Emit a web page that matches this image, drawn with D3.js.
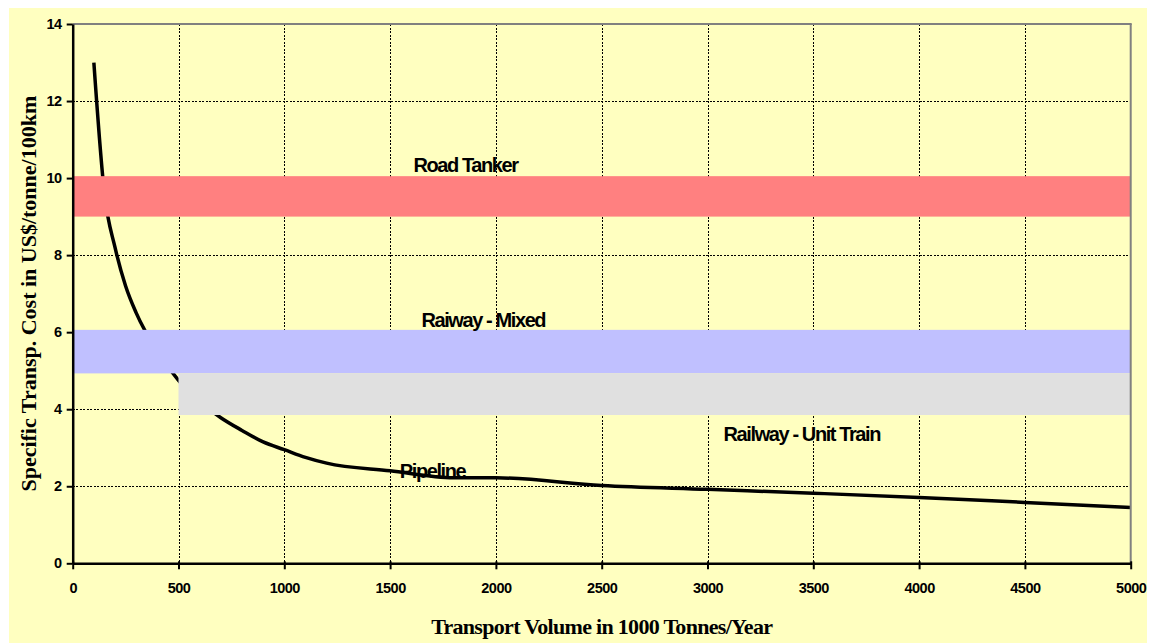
<!DOCTYPE html>
<html>
<head>
<meta charset="utf-8">
<script src="https://cdn.jsdelivr.net/npm/d3@7"></script>
<style>
  html, body { margin: 0; padding: 0; background: #ffffff; }
  svg { display: block; }
  .tick-label { font-family: "Liberation Sans", Arial, sans-serif; font-weight: bold; font-size: 14.5px; letter-spacing: -0.5px; fill: #000; }
  .band-label { font-family: "Liberation Sans", Arial, sans-serif; font-weight: bold; font-size: 20px; letter-spacing: -1.4px; fill: #000; }
  .axis-title { font-family: "Liberation Serif", "Times New Roman", serif; font-weight: bold; fill: #000; }
</style>
</head>
<body>
<svg id="chart" width="1151" height="643"></svg>
<script>
// Transport volume (1000 t/yr) and specific pipeline cost (US$/tonne/100km)
const pipelineVolume = [100, 150, 200, 250, 300, 400, 500, 600, 700, 800, 900, 1000, 1100, 1200, 1500, 1800, 2000, 2500, 3000, 3500, 4000, 4500, 5000];
const pipelineCost   = [13, 9.6, 8.2, 7.2, 6.5, 5.5, 4.75, 4.2, 3.78, 3.45, 3.15, 2.95, 2.75, 2.6, 2.4, 2.22, 2.22, 2.02, 1.92, 1.82, 1.71, 1.58, 1.45];

// Cost ranges of the competing modes
const bandNames  = ["Road Tanker", "Raiway - Mixed", "Railway - Unit Train"];
const bandLow    = [9, 4.93, 3.85];
const bandHigh   = [10.05, 6.06, 4.93];
const bandFrom   = [0, 0, 500];
const bandTo     = [5000, 5000, 5000];
const bandColors = ["#ff8080", "#c0c0ff", "#e0e0e0"];

// Label anchors in data units
const labelText = ["Road Tanker", "Raiway - Mixed", "Railway - Unit Train", "Pipeline"];
const labelX    = [1610, 1648, 3076, 1546];
const labelY    = [10.34, 6.32, 3.36, 2.40];

const xTicks = [0, 500, 1000, 1500, 2000, 2500, 3000, 3500, 4000, 4500, 5000];
const yTicks = [0, 2, 4, 6, 8, 10, 12, 14];

const svg = d3.select("#chart");
const plotLeft = 72.7, plotRight = 1130.7, plotTop = 24, plotBottom = 563.3;

const x = d3.scaleLinear().domain([0, 5000]).range([plotLeft, plotRight]);
const y = d3.scaleLinear().domain([0, 14]).range([plotBottom, plotTop]);

// chart area background
svg.append("rect").attr("x", 9).attr("y", 8).attr("width", 1138).attr("height", 635).attr("fill", "#ffffc0");

// dashed grid
const grid = svg.append("g").attr("stroke", "#000").attr("stroke-width", 1).attr("stroke-dasharray", "2,1.5").attr("shape-rendering", "crispEdges");
grid.selectAll("line.v").data(xTicks.filter(d => d > 0 && d < 5000)).join("line")
  .attr("x1", d => Math.round(x(d)) + 0.5).attr("x2", d => Math.round(x(d)) + 0.5)
  .attr("y1", plotTop).attr("y2", plotBottom);
grid.selectAll("line.h").data(yTicks.filter(d => d > 0 && d < 14)).join("line")
  .attr("x1", plotLeft).attr("x2", plotRight)
  .attr("y1", d => Math.round(y(d)) + 0.5).attr("y2", d => Math.round(y(d)) + 0.5);

// pipeline cost curve
const pts = pipelineVolume.map((v, i) => [v, pipelineCost[i]]);
svg.append("path").datum(pts)
  .attr("fill", "none").attr("stroke", "#000").attr("stroke-width", 3.5).attr("stroke-linejoin", "round")
  .attr("d", d3.line().x(d => x(d[0])).y(d => y(d[1])).curve(d3.curveMonotoneX));

// cost bands of road and rail
svg.append("g").selectAll("rect").data(bandNames).join("rect")
  .attr("x", (d, i) => x(bandFrom[i]))
  .attr("width", (d, i) => x(bandTo[i]) - x(bandFrom[i]))
  .attr("y", (d, i) => y(bandHigh[i]))
  .attr("height", (d, i) => y(bandLow[i]) - y(bandHigh[i]))
  .attr("fill", (d, i) => bandColors[i]);

// frame: grey top and right, black axes
svg.append("line").attr("x1", plotLeft).attr("x2", plotRight + 1).attr("y1", plotTop).attr("y2", plotTop).attr("stroke", "#808080").attr("stroke-width", 2);
svg.append("line").attr("x1", plotRight).attr("x2", plotRight).attr("y1", plotTop).attr("y2", plotBottom).attr("stroke", "#808080").attr("stroke-width", 2);

const xAxis = d3.axisBottom(x).tickValues(xTicks).tickSize(6).tickSizeOuter(0).tickPadding(10).tickFormat(d3.format("d"));
const gx = svg.append("g").attr("transform", `translate(0,${plotBottom})`).call(xAxis);
gx.select(".domain").attr("stroke", "#000").attr("stroke-width", 2.5);
gx.selectAll(".tick line").attr("stroke", "#000").attr("stroke-width", 2).attr("y1", -2).attr("y2", 6);
gx.selectAll(".tick text").attr("class", "tick-label").attr("font-family", null).attr("font-size", null)
  .attr("y", 24.7).attr("dy", "0.36em");

const yAxis = d3.axisLeft(y).tickValues(yTicks).tickSize(6).tickSizeOuter(0).tickPadding(5).tickFormat(d3.format("d"));
const gy = svg.append("g").attr("transform", `translate(${plotLeft},0)`).call(yAxis);
gy.select(".domain").attr("stroke", "#000").attr("stroke-width", 2.5);
gy.selectAll(".tick line").attr("stroke", "#000").attr("stroke-width", 2);
gy.selectAll(".tick text").attr("class", "tick-label").attr("font-family", null).attr("font-size", null);

// mode labels
svg.append("g").selectAll("text").data(labelText).join("text")
  .attr("class", "band-label")
  .attr("x", (d, i) => x(labelX[i]))
  .attr("y", (d, i) => y(labelY[i]))
  .attr("dy", "0.36em")
  .text(d => d);

// axis titles
svg.append("text").attr("class", "axis-title")
  .attr("x", (plotLeft + plotRight) / 2).attr("y", 627).attr("dy", "0.3em")
  .attr("text-anchor", "middle").attr("font-size", 22).attr("letter-spacing", "-0.7px")
  .text("Transport Volume in 1000 Tonnes/Year");

svg.append("text").attr("class", "axis-title")
  .attr("transform", `translate(29,${(plotTop + plotBottom) / 2}) rotate(-90)`).attr("dy", "0.3em")
  .attr("text-anchor", "middle").attr("font-size", 22)
  .text("Specific Transp. Cost in US$/tonne/100km");
</script>
</body>
</html>
